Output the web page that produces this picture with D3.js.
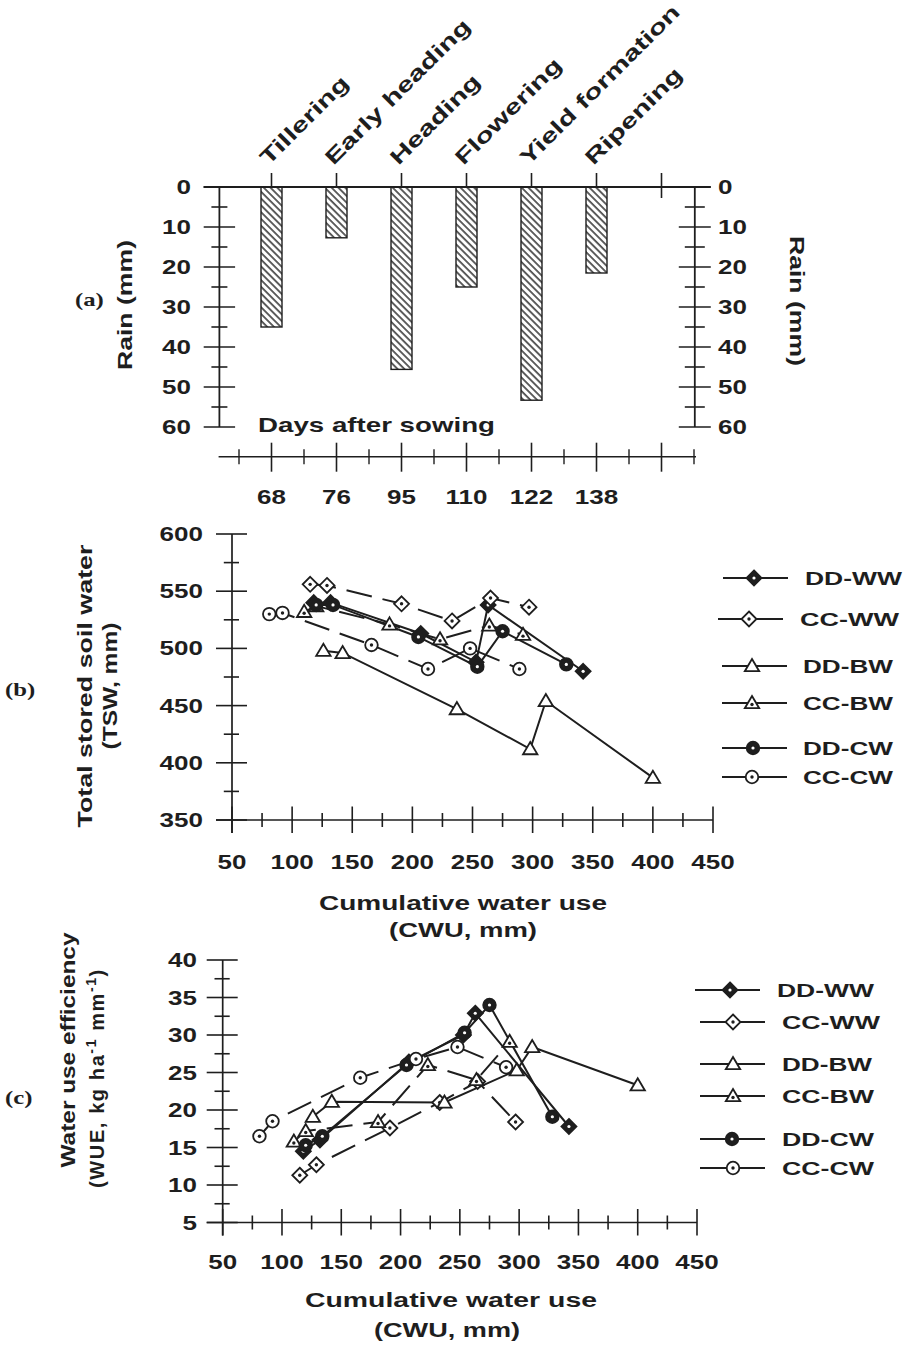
<!DOCTYPE html>
<html>
<head>
<meta charset="utf-8">
<script src="https://cdn.jsdelivr.net/npm/d3@7"></script>
<style>
  body { margin: 0; background: #fff; }
  svg text { font-family: "Liberation Sans", Arial, sans-serif; font-weight: bold; fill: #1e1e1e; }
  svg text.plabel { font-family: "Liberation Serif", "Times New Roman", serif; }
</style>
</head>
<body>
<svg id="fig" width="905" height="1345"></svg>
<script>
// ---------------- data ----------------
// (a) rainfall at each growth stage
const stages = ["Tillering", "Early heading", "Heading", "Flowering", "Yield formation", "Ripening"];
const daysAfterSowing = [68, 76, 95, 110, 122, 138];
const rainMm = [35, 12.7, 45.6, 25, 53.3, 21.5];
const rainTicks = [0, 10, 20, 30, 40, 50, 60];

// (b)/(c) cumulative water use (CWU, mm) at the six sampling dates
const cwuDDWW = [118, 132, 207, 253, 263, 342];
const cwuCCWW = [115, 129, 191, 233, 265, 297];
const cwuDDBW = [126, 142, 237, 298, 311, 400];
const cwuCCBW = [110, 120, 181, 223, 264, 292];
const cwuDDCW = [120, 134, 205, 254, 275, 328];
const cwuCCCW = [81, 92, 166, 213, 248, 289];

// (b) total stored soil water (TSW, mm)
const tswDDWW = [540, 540, 513, 488, 538, 480];
const tswCCWW = [556, 555, 539, 524, 544, 536];
const tswDDBW = [498, 496, 447, 412, 454, 387];
const tswCCBW = [532, 537, 521, 508, 520, 512];
const tswDDCW = [538, 538, 510, 484, 515, 486];
const tswCCCW = [530, 531, 503, 482, 500, 482];

// (c) water use efficiency (WUE, kg ha-1 mm-1)
const wueDDWW = [14.5, 16.0, 26.4, 30.0, 32.9, 17.8];
const wueCCWW = [11.3, 12.7, 17.6, 21.0, 23.8, 18.4];
const wueDDBW = [19.1, 21.1, 21.0, 25.3, 28.4, 23.3];
const wueCCBW = [15.8, 17.2, 18.4, 26.0, 24.0, 29.1];
const wueDDCW = [15.3, 16.5, 26.0, 30.3, 34.0, 19.1];
const wueCCCW = [16.5, 18.5, 24.3, 26.8, 28.4, 25.7];

const seriesNames = ["DD-WW", "CC-WW", "DD-BW", "CC-BW", "DD-CW", "CC-CW"];
const cwuTicks = [50, 100, 150, 200, 250, 300, 350, 400, 450];
const tswTicks = [350, 400, 450, 500, 550, 600];
const wueTicks = [5, 10, 15, 20, 25, 30, 35, 40];

// ---------------- setup ----------------
const ink = "#1e1e1e";
const svg = d3.select("#fig");
const defs = svg.append("defs");
defs.append("pattern")
  .attr("id", "hatch")
  .attr("patternUnits", "userSpaceOnUse")
  .attr("width", 4.8).attr("height", 4.8)
  .attr("patternTransform", "rotate(-45)")
  .append("line")
  .attr("x1", 1).attr("y1", -1).attr("x2", 1).attr("y2", 6)
  .attr("stroke", ink).attr("stroke-width", 1.4);

// widen a text element to k times its natural length
function stretch(sel, k) {
  sel.each(function () {
    const L = this.getComputedTextLength();
    this.setAttribute("textLength", (L * k).toFixed(1));
    this.setAttribute("lengthAdjust", "spacingAndGlyphs");
  });
  return sel;
}
function fitTo(sel, w) {
  sel.attr("textLength", w).attr("lengthAdjust", "spacingAndGlyphs");
  return sel;
}
function seg(g, x1, y1, x2, y2, w) {
  g.append("line").attr("x1", x1).attr("y1", y1).attr("x2", x2).attr("y2", y2)
    .attr("stroke", ink).attr("stroke-width", w || 1.6);
}

// ---------------- panel (a) ----------------
const ga = svg.append("g");
const slot = d3.scaleLinear().domain([0, 6]).range([271.5, 661.5]);
const yRain = d3.scaleLinear().domain([0, 60]).range([187, 427]);
const leftX = 219.4, rightX = 694.8, botY = 456.7;

// bars hang from the zero line
ga.selectAll("rect.bar").data(rainMm).join("rect")
  .attr("class", "bar")
  .attr("x", (d, i) => slot(i) - 10.5)
  .attr("y", yRain(0))
  .attr("width", 21)
  .attr("height", d => yRain(d) - yRain(0))
  .attr("fill", "url(#hatch)")
  .attr("stroke", ink).attr("stroke-width", 1.4);

// frame lines
seg(ga, 203.6, yRain(0), 710.7, yRain(0), 1.8);
seg(ga, leftX, yRain(0), leftX, yRain(60), 1.8);
seg(ga, rightX, yRain(0), rightX, yRain(60), 1.8);

// rain ticks on both sides
d3.range(0, 61, 5).forEach(v => {
  const major = v % 10 === 0;
  const y = yRain(v);
  seg(ga, leftX - (major ? 15.7 : 8), y, leftX + (major ? 15.7 : 8), y, 1.6);
  seg(ga, rightX - (major ? 16 : 10), y, rightX + (major ? 16 : 10), y, 1.6);
});
ga.selectAll("text.rl").data(rainTicks).join("text")
  .attr("class", "rl")
  .attr("x", 191).attr("y", d => yRain(d) + 7)
  .attr("text-anchor", "end").attr("font-size", 20).text(d => d)
  .call(stretch, 1.3);
ga.selectAll("text.rr").data(rainTicks).join("text")
  .attr("class", "rr")
  .attr("x", 718).attr("y", d => yRain(d) + 7)
  .attr("text-anchor", "start").attr("font-size", 20).text(d => d)
  .call(stretch, 1.3);

// stage ticks above the zero line
d3.range(0, 7).forEach(i => {
  seg(ga, slot(i), 173, slot(i), i === 6 ? 198 : yRain(0), 1.6);
});
// stage names
ga.selectAll("text.stage").data(stages).join("text")
  .attr("class", "stage")
  .attr("transform", (d, i) => `translate(${slot(i) - 3},${166}) rotate(-45)`)
  .attr("font-size", 21).text(d => d)
  .call(stretch, 1.42);

ga.append("text").attr("x", 258).attr("y", 432).attr("font-size", 21)
  .text("Days after sowing").call(fitTo, 237);

// days-after-sowing axis
seg(ga, 218.6, botY, 696, botY, 1.6);
d3.range(0, 7).forEach(i => seg(ga, slot(i), botY - 14, slot(i), botY + 15, 1.6));
d3.range(-0.5, 7, 1).forEach(i => seg(ga, slot(i), botY - 7.5, slot(i), botY + 7.5, 1.4));
ga.selectAll("text.das").data(daysAfterSowing).join("text")
  .attr("class", "das")
  .attr("x", (d, i) => slot(i)).attr("y", 504)
  .attr("text-anchor", "middle").attr("font-size", 20).text(d => d)
  .call(stretch, 1.3);

ga.append("text").attr("transform", "translate(132,305) rotate(-90)")
  .attr("text-anchor", "middle").attr("font-size", 20).text("Rain (mm)").call(fitTo, 130);
ga.append("text").attr("transform", "translate(790,301) rotate(90)")
  .attr("text-anchor", "middle").attr("font-size", 20).text("Rain (mm)").call(fitTo, 130);
ga.append("text").attr("class", "plabel").attr("x", 75).attr("y", 306)
  .attr("font-size", 19).text("(a)").call(stretch, 1.3);

// ---------------- series table ----------------
const series = [
  { name: seriesNames[0], cwu: cwuDDWW, tsw: tswDDWW, wue: wueDDWW, shape: "diamond", filled: true, dashed: false },
  { name: seriesNames[1], cwu: cwuCCWW, tsw: tswCCWW, wue: wueCCWW, shape: "diamond", filled: false, dashed: true },
  { name: seriesNames[2], cwu: cwuDDBW, tsw: tswDDBW, wue: wueDDBW, shape: "triangle", filled: false, dashed: false },
  { name: seriesNames[3], cwu: cwuCCBW, tsw: tswCCBW, wue: wueCCBW, shape: "triangle", filled: false, dashed: true, dot: true },
  { name: seriesNames[4], cwu: cwuDDCW, tsw: tswDDCW, wue: wueDDCW, shape: "circle", filled: true, dashed: false },
  { name: seriesNames[5], cwu: cwuCCCW, tsw: tswCCCW, wue: wueCCCW, shape: "circle", filled: false, dashed: true }
];

function shapePath(shape) {
  if (shape === "diamond") return "M0,-7.5L7.5,0L0,7.5L-7.5,0Z";
  if (shape === "triangle") return "M0,-7L7.2,5.2L-7.2,5.2Z";
  return d3.arc()({ innerRadius: 0, outerRadius: 6.3, startAngle: 0, endAngle: 2 * Math.PI });
}
function drawMarker(g, s, cx, cy) {
  const m = g.append("g").attr("transform", `translate(${cx},${cy})`);
  m.append("path").attr("d", shapePath(s.shape))
    .attr("fill", s.filled ? ink : "#fff")
    .attr("stroke", ink).attr("stroke-width", 1.8);
  if (s.filled) {
    m.append("circle").attr("r", 1.6).attr("fill", "#fff");
  } else if (s.shape !== "triangle" || s.dot) {
    m.append("circle").attr("cy", s.shape === "triangle" ? 1.5 : 0).attr("r", 1.7).attr("fill", ink);
  }
}

function drawXY(g, x, y, key) {
  const line = d3.line().x(d => x(d[0])).y(d => y(d[1]));
  series.forEach(s => {
    const pts = s.cwu.map((c, i) => [c, s[key][i]]);
    g.append("path").attr("d", line(pts))
      .attr("fill", "none").attr("stroke", ink).attr("stroke-width", 2)
      .attr("stroke-dasharray", s.dashed ? "26,11" : null);
  });
  series.forEach(s => {
    s.cwu.forEach((c, i) => drawMarker(g, s, x(c), y(s[key][i])));
  });
}

function drawLegend(g, entries) {
  entries.forEach((e, i) => {
    const s = series[i];
    seg(g, e.x1, e.y, e.x2, e.y, 2);
    drawMarker(g, s, e.mx, e.y);
    g.append("text").attr("x", e.tx).attr("y", e.y + 7).attr("font-size", 19)
      .text(s.name).call(fitTo, e.w);
  });
}

function drawFrame(g, x, y, o) {
  // axes with crossing ticks
  seg(g, x.range()[0], y.range()[1], x.range()[0], y.range()[0] + 13, 1.7);
  seg(g, x.range()[0] - 16, y.range()[0], x.range()[1], y.range()[0], 1.7);
  const x0 = x.range()[0], y0 = y.range()[0];
  d3.range(y.domain()[0], y.domain()[1] + 0.001, o.yMinor).forEach(v => {
    const major = Math.abs(v / o.yMajor - Math.round(v / o.yMajor)) < 1e-6;
    seg(g, x0 - (major ? 16 : 8.2), y(v), x0 + (major ? 15 : 7), y(v), 1.6);
  });
  d3.range(x.domain()[0], x.domain()[1] + 0.001, 25).forEach(v => {
    const major = v % 50 === 0;
    seg(g, x(v), y0 - (major ? 13.5 : 7), x(v), y0 + (major ? 13 : 7), 1.6);
  });
  g.selectAll("text.yt").data(o.yTicks).join("text").attr("class", "yt")
    .attr("x", o.yLabX).attr("y", d => y(d) + 7)
    .attr("text-anchor", "end").attr("font-size", 20).text(d => d)
    .call(stretch, 1.3);
  g.selectAll("text.xt").data(cwuTicks).join("text").attr("class", "xt")
    .attr("x", d => x(d)).attr("y", o.xLabY)
    .attr("text-anchor", "middle").attr("font-size", 20).text(d => d)
    .call(stretch, 1.3);
}

// ---------------- panel (b) ----------------
const gb = svg.append("g");
const xB = d3.scaleLinear().domain([50, 450]).range([232, 713]);
const yB = d3.scaleLinear().domain([350, 600]).range([820, 534]);
drawFrame(gb, xB, yB, { yMinor: 25, yMajor: 50, yTicks: tswTicks, yLabX: 203, xLabY: 869 });
drawXY(gb, xB, yB, "tsw");
drawLegend(gb, [
  { y: 578, x1: 723, x2: 788, mx: 754, tx: 805, w: 97 },
  { y: 619, x1: 718, x2: 783, mx: 749, tx: 800, w: 99 },
  { y: 666, x1: 722, x2: 787, mx: 752, tx: 803, w: 90 },
  { y: 703, x1: 722, x2: 787, mx: 752, tx: 803, w: 90 },
  { y: 748, x1: 722, x2: 787, mx: 753, tx: 803, w: 90 },
  { y: 777, x1: 722, x2: 787, mx: 752, tx: 803, w: 90 }
]);
gb.append("text").attr("transform", "translate(92,686) rotate(-90)")
  .attr("text-anchor", "middle").attr("font-size", 20).text("Total stored soil water").call(fitTo, 283);
gb.append("text").attr("transform", "translate(117,686) rotate(-90)")
  .attr("text-anchor", "middle").attr("font-size", 20).text("(TSW, mm)").call(fitTo, 127);
gb.append("text").attr("x", 463).attr("y", 910).attr("text-anchor", "middle")
  .attr("font-size", 20).text("Cumulative water use").call(fitTo, 288);
gb.append("text").attr("x", 463).attr("y", 937).attr("text-anchor", "middle")
  .attr("font-size", 20).text("(CWU, mm)").call(fitTo, 148);
gb.append("text").attr("class", "plabel").attr("x", 5).attr("y", 696)
  .attr("font-size", 19).text("(b)").call(stretch, 1.3);

// ---------------- panel (c) ----------------
const gc = svg.append("g");
const xC = d3.scaleLinear().domain([50, 450]).range([222.7, 697]);
const yC = d3.scaleLinear().domain([5, 40]).range([1222.5, 960]);
drawFrame(gc, xC, yC, { yMinor: 2.5, yMajor: 5, yTicks: wueTicks, yLabX: 197, xLabY: 1269 });
drawXY(gc, xC, yC, "wue");
drawLegend(gc, [
  { y: 990, x1: 695, x2: 760, mx: 730, tx: 777, w: 97 },
  { y: 1022, x1: 700, x2: 765, mx: 733, tx: 782, w: 98 },
  { y: 1064, x1: 700, x2: 765, mx: 733, tx: 782, w: 90 },
  { y: 1096, x1: 700, x2: 765, mx: 733, tx: 782, w: 92 },
  { y: 1139, x1: 700, x2: 765, mx: 732, tx: 782, w: 92 },
  { y: 1168, x1: 700, x2: 765, mx: 733, tx: 782, w: 92 }
]);
gc.append("text").attr("transform", "translate(75,1050) rotate(-90)")
  .attr("text-anchor", "middle").attr("font-size", 20).text("Water use efficiency").call(fitTo, 235);
const wl = gc.append("text").attr("transform", "translate(104,1078) rotate(-90)")
  .attr("text-anchor", "middle").attr("font-size", 20).attr("letter-spacing", 1.6);
wl.append("tspan").text("(WUE, kg ha");
wl.append("tspan").attr("dy", -8).attr("font-size", 14).text("-1");
wl.append("tspan").attr("dy", 8).text(" mm");
wl.append("tspan").attr("dy", -8).attr("font-size", 14).text("-1");
wl.append("tspan").attr("dy", 8).text(")");
gc.append("text").attr("x", 451).attr("y", 1307).attr("text-anchor", "middle")
  .attr("font-size", 20).text("Cumulative water use").call(fitTo, 292);
gc.append("text").attr("x", 447).attr("y", 1337).attr("text-anchor", "middle")
  .attr("font-size", 20).text("(CWU, mm)").call(fitTo, 146);
gc.append("text").attr("class", "plabel").attr("x", 5).attr("y", 1104)
  .attr("font-size", 19).text("(c)").call(stretch, 1.3);
</script>
</body>
</html>
